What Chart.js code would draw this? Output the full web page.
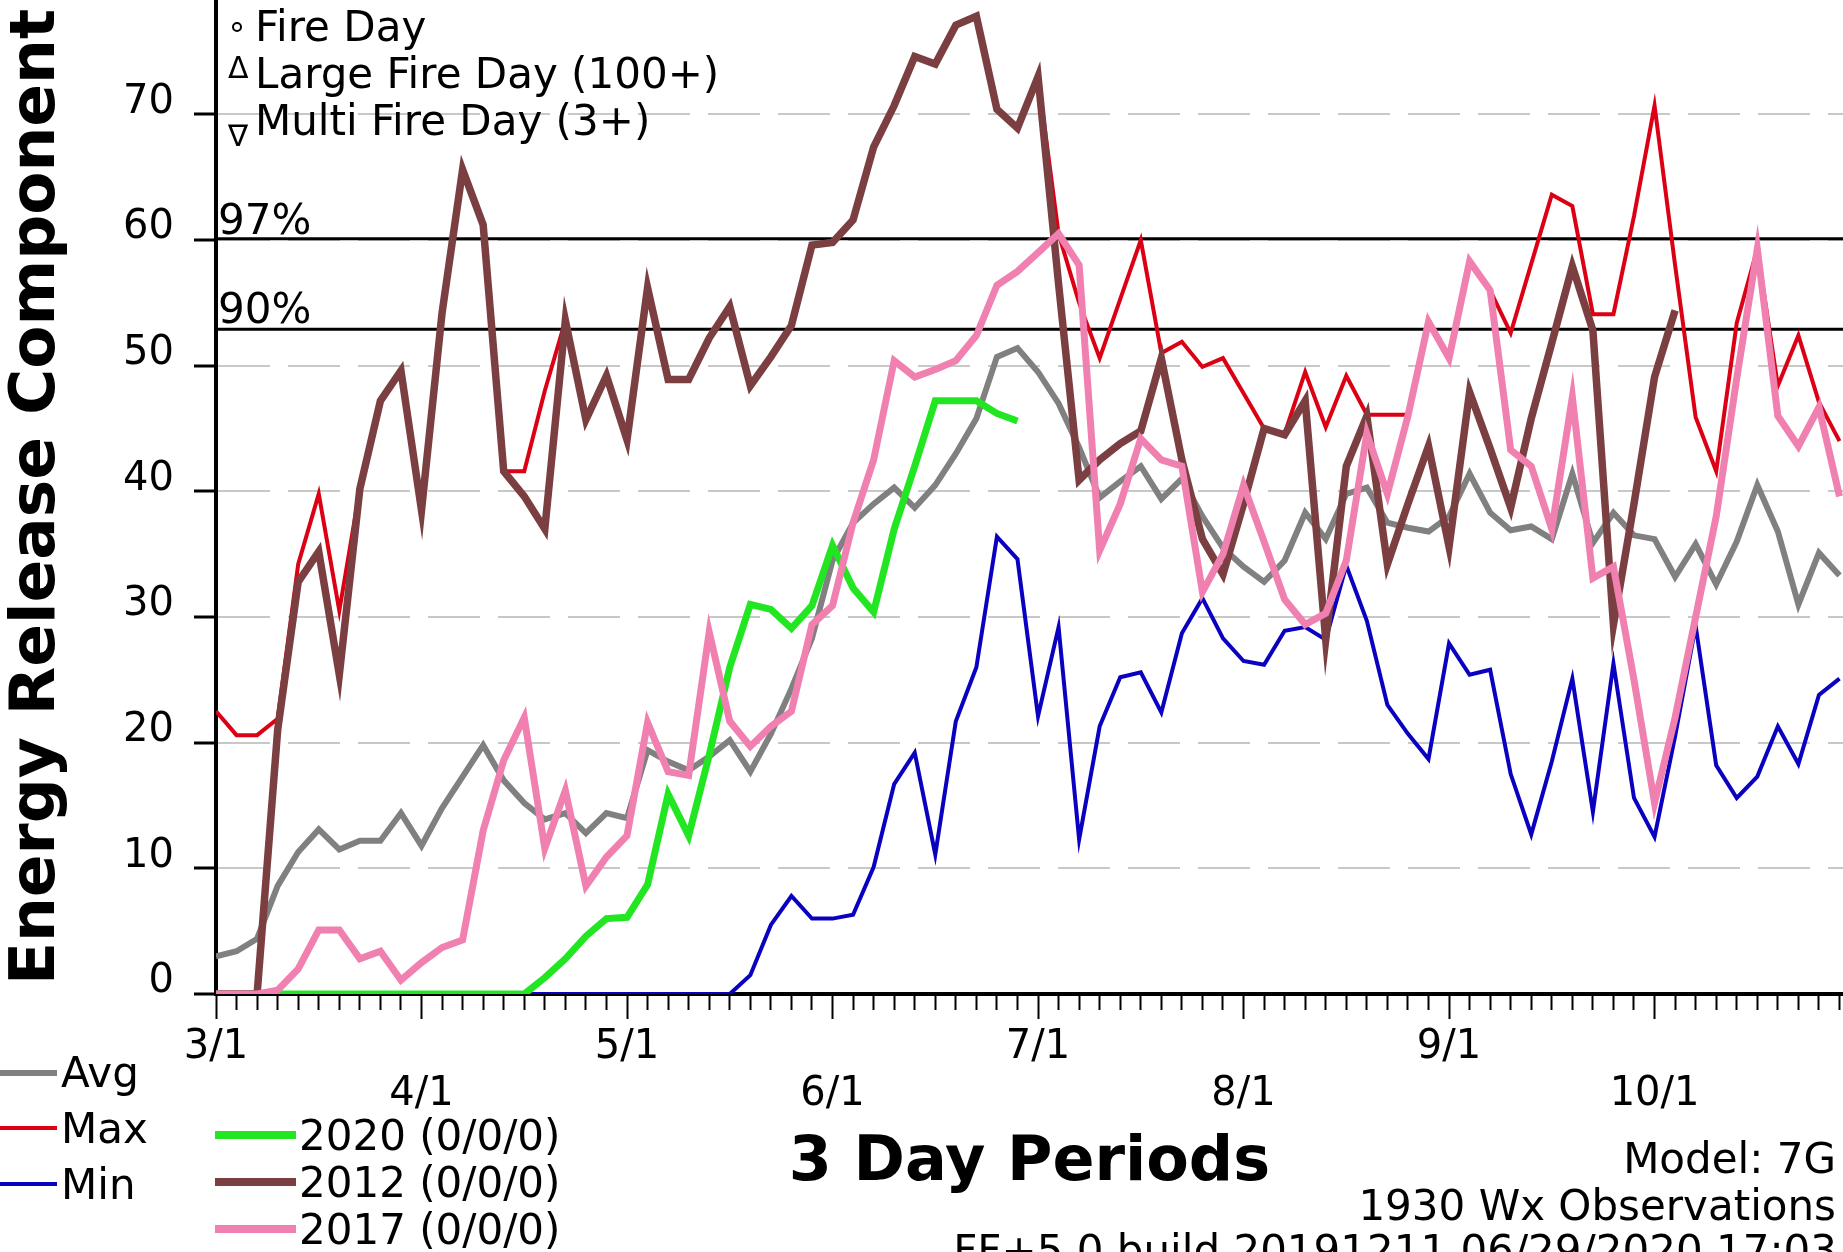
<!DOCTYPE html>
<html>
<head>
<meta charset="utf-8">
<title>Energy Release Component - 3 Day Periods</title>
<script src="https://cdn.jsdelivr.net/npm/chart.js@4.4.1/dist/chart.umd.min.js"></script>
<style>
  html, body { margin: 0; padding: 0; background: #fff; }
  #wrap { position: relative; width: 1843px; height: 1252px; overflow: hidden;
          font-family: 'DejaVu Sans', sans-serif; color: #000; background: #fff; }
  #wrap canvas { position: absolute; left: 0; top: 0; }
  .note { position: absolute; white-space: nowrap; line-height: 1; }
  .swatch { position: absolute; }
  .dot { position: absolute; width: 10px; height: 10px; box-sizing: border-box;
         border: 2px solid #000; border-radius: 50%; }
</style>
</head>
<body>
<div id="wrap"><canvas id="ercChart" width="1843" height="1252"></canvas></div>
<script>
'use strict';

// x axis: 3 day periods counted from 3/1, ten periods per month
const PERIODS = Array.from({ length: 80 }, (_, i) => i);
const MONTH_PERIODS = [0, 10, 20, 30, 40, 50, 60, 70];
const MONTH_LABELS = ['3/1', '4/1', '5/1', '6/1', '7/1', '8/1', '9/1', '10/1'];
const Y_TICKS = [0, 10, 20, 30, 40, 50, 60, 70];

const AVG = [
  3.0, 3.4, 4.4, 8.6, 11.3, 13.1, 11.5, 12.2, 12.2, 14.4,
  11.8, 14.8, 17.3, 19.8, 17.0, 15.2, 13.9, 14.4, 12.8, 14.4,
  14.0, 19.4, 18.5, 17.8, 18.9, 20.2, 17.7, 20.7, 24.3, 28.3,
  34.5, 37.5, 39.0, 40.3, 38.7, 40.5, 43.0, 45.8, 50.7, 51.4,
  49.5, 47.0, 43.5, 39.5, 40.8, 42.0, 39.4, 41.0, 38.0, 35.5,
  34.0, 32.8, 34.5, 38.3, 36.2, 39.8, 40.3, 37.5, 37.1, 36.8,
  38.0, 41.4, 38.3, 36.9, 37.2, 36.2, 41.4, 35.9, 38.3, 36.5,
  36.2, 33.2, 35.8, 32.6, 36.0, 40.5, 36.8, 31.0, 35.1, 33.3
];
const MAX = [
  22.5, 20.6, 20.6, 21.9, 34.2, 39.8, 30.5, 40.2, 47.2, 49.6,
  38.5, 54.2, 65.6, 61.2, 41.6, 41.6, 48.0, 53.6, 45.7, 49.2,
  44.1, 56.2, 48.9, 48.9, 52.2, 54.7, 48.4, 50.7, 53.2, 59.6,
  59.8, 61.6, 67.4, 70.7, 74.6, 74.0, 77.1, 77.8, 70.4, 68.9,
  73.0, 60.5, 55.0, 50.6, 55.3, 60.0, 51.0, 51.9, 49.9, 50.6,
  47.8, 45.0, 44.6, 49.5, 45.1, 49.2, 46.1, 46.1, 46.1, 53.5,
  50.6, 58.3, 56.0, 52.6, 58.1, 63.6, 62.7, 54.1, 54.1, 61.9,
  70.7, 58.0, 45.9, 41.6, 53.4, 59.3, 48.4, 52.4, 47.1, 44.0
];
const MIN = [
  0, 0, 0, 0, 0, 0, 0, 0, 0, 0,
  0, 0, 0, 0, 0, 0, 0, 0, 0, 0,
  0, 0, 0, 0, 0, 0, 1.5, 5.5, 7.8, 6.0,
  6.0, 6.3, 10.1, 16.7, 19.2, 11.1, 21.7, 26.0, 36.4, 34.6,
  22.1, 29.2, 12.3, 21.3, 25.2, 25.6, 22.4, 28.7, 31.5, 28.3,
  26.5, 26.2, 28.9, 29.2, 28.2, 34.1, 29.7, 23.0, 20.7, 18.7,
  27.9, 25.4, 25.8, 17.5, 12.7, 18.5, 25.1, 14.5, 26.3, 15.6,
  12.5, 20.5, 29.3, 18.2, 15.6, 17.3, 21.3, 18.3, 23.8, 25.1
];
const Y2020 = [
  0, 0, 0, 0, 0, 0, 0, 0, 0, 0,
  0, 0, 0, 0, 0, 0, 1.3, 2.8, 4.6, 6.0,
  6.1, 8.7, 15.9, 12.6, 19.0, 26.0, 31.0, 30.6, 29.1, 30.9,
  35.7, 32.3, 30.4, 37.0, 42.0, 47.2, 47.2, 47.2, 46.2, 45.6
];
const Y2012 = [
  0, 0, 0, 21.0, 32.8, 35.2, 25.4, 40.2, 47.2, 49.6,
  38.5, 54.2, 65.6, 61.2, 41.6, 39.6, 37.0, 53.6, 45.7, 49.2,
  44.1, 56.2, 48.9, 48.9, 52.2, 54.7, 48.4, 50.7, 53.2, 59.6,
  59.8, 61.6, 67.4, 70.7, 74.6, 74.0, 77.1, 77.8, 70.4, 68.9,
  73.0, 56.5, 40.9, 42.5, 43.8, 44.8, 50.6, 42.5, 36.2, 33.4,
  39.0, 45.0, 44.5, 47.2, 28.2, 42.0, 46.0, 34.2, 39.0, 43.6,
  35.6, 47.9, 43.4, 38.7, 45.8, 51.8, 57.9, 52.8, 29.4, 39.0,
  49.1, 54.4
];
const Y2017 = [
  0, 0, 0, 0.3, 2.0, 5.1, 5.1, 2.8, 3.4, 1.1,
  2.5, 3.7, 4.3, 13.0, 18.6, 22.0, 11.6, 16.2, 8.6, 10.9,
  12.6, 21.6, 17.7, 17.4, 28.8, 21.7, 19.7, 21.3, 22.5, 29.4,
  30.9, 37.5, 42.5, 50.4, 49.1, 49.7, 50.4, 52.4, 56.4, 57.5,
  59.0, 60.5, 58.0, 35.3, 39.0, 44.2, 42.5, 42.0, 32.0, 35.0,
  40.5, 36.0, 31.4, 29.4, 30.3, 34.5, 44.6, 39.8, 46.0, 53.5,
  50.6, 58.3, 56.0, 43.3, 42.0, 37.0, 47.5, 33.1, 34.0, 25.0,
  15.2, 22.0, 30.0, 38.0, 49.0, 59.3, 46.0, 43.6, 46.7, 39.6
];

// percentile lines
const PCT_97 = 60.1;
const PCT_90 = 52.9;

const X_MAX = 79.17;
const Y_MAX = 79.1;
const W = 1843;
const FONT = "'DejaVu Sans', sans-serif";

const SERIES = [
  { label: '2017', values: Y2017, color: '#f080b0', width: 7 },
  { label: '2012', values: Y2012, color: '#7b3f41', width: 7.5 },
  { label: '2020', values: Y2020, color: '#22e622', width: 7 },
  { label: 'Min',  values: MIN,   color: '#0a00c0', width: 4 },
  { label: 'Max',  values: MAX,   color: '#dc0014', width: 4 },
  { label: 'Avg',  values: AVG,   color: '#808080', width: 6 },
];

const NOTES = [
  { text: '97%', x: 218, base: 235 },
  { text: '90%', x: 218, base: 324 },
  { text: 'Fire Day', x: 255, base: 42 },
  { text: 'Large Fire Day (100+)', x: 255, base: 89 },
  { text: 'Multi Fire Day (3+)', x: 255, base: 136 },
  { text: '\u0394', x: 228, base: 78, size: 30 },
  { text: '\u2207', x: 228, base: 146, size: 30 },
  { text: 'Avg', x: 61, base: 1088 },
  { text: 'Max', x: 61, base: 1144 },
  { text: 'Min', x: 61, base: 1200 },
  { text: '2020 (0/0/0)', x: 299, base: 1151 },
  { text: '2012 (0/0/0)', x: 299, base: 1198 },
  { text: '2017 (0/0/0)', x: 299, base: 1245 },
  { text: 'Model: 7G', right: 1836, base: 1174 },
  { text: '1930 Wx Observations', right: 1836, base: 1221 },
  { text: 'FF+5.0 build 20191211 06/29/2020 17:03', right: 1837, base: 1266 },
];

const SWATCHES = [
  { color: '#808080', x: 0,   w: 57, y: 1073, h: 6 },
  { color: '#dc0014', x: 0,   w: 57, y: 1128, h: 4 },
  { color: '#0a00c0', x: 0,   w: 57, y: 1184, h: 4 },
  { color: '#22e622', x: 215, w: 81, y: 1135, h: 8 },
  { color: '#7b3f41', x: 215, w: 81, y: 1182, h: 8 },
  { color: '#f080b0', x: 215, w: 81, y: 1229, h: 8 },
];

function toPoints(values) {
  return values.map((v, i) => ({ x: PERIODS[i], y: v }));
}

function flatLine(y) {
  return [{ x: 0, y }, { x: X_MAX, y }];
}

function buildDatasets() {
  const sets = SERIES.map((s, i) => ({
    label: s.label,
    data: toPoints(s.values),
    borderColor: s.color,
    backgroundColor: s.color,
    borderWidth: s.width,
    pointRadius: 0,
    tension: 0,
    fill: false,
    order: i,
  }));
  [PCT_97, PCT_90].forEach((p, k) => sets.push({
    label: k === 0 ? '97%' : '90%',
    data: flatLine(p),
    borderColor: '#000',
    borderWidth: 3,
    pointRadius: 0,
    fill: false,
    order: 10,
  }));
  return sets;
}

function renderOverlay() {
  const wrap = document.getElementById('wrap');
  NOTES.forEach(n => {
    const el = document.createElement('div');
    const size = n.size || 42;
    el.className = 'note';
    el.textContent = n.text;
    el.style.fontSize = size + 'px';
    el.style.top = (n.base - 0.846 * size) + 'px';
    if (n.right != null) el.style.right = (W - n.right) + 'px';
    else el.style.left = n.x + 'px';
    wrap.appendChild(el);
  });
  SWATCHES.forEach(s => {
    const el = document.createElement('div');
    el.className = 'swatch';
    el.style.left = s.x + 'px';
    el.style.width = s.w + 'px';
    el.style.top = (s.y - s.h / 2) + 'px';
    el.style.height = s.h + 'px';
    el.style.background = s.color;
    wrap.appendChild(el);
  });
  const dot = document.createElement('div');
  dot.className = 'dot';
  dot.style.left = '232px';
  dot.style.top = '22px';
  wrap.appendChild(dot);
}

function renderChart() {
  Chart.defaults.font.family = FONT;
  Chart.defaults.color = '#000';

  new Chart(document.getElementById('ercChart'), {
    type: 'line',
    data: { datasets: buildDatasets() },
    options: {
      responsive: false,
      animation: false,
      events: [],
      layout: { padding: 0 },
      plugins: { legend: { display: false }, tooltip: { enabled: false } },
      scales: {
        x: {
          type: 'linear',
          min: 0,
          max: X_MAX,
          afterBuildTicks: s => { s.ticks = PERIODS.map(v => ({ value: v })); },
          afterFit: s => { s.height = 258; s.paddingLeft = 0; s.paddingRight = 0; },
          ticks: {
            autoSkip: false,
            maxRotation: 0,
            minRotation: 0,
            padding: 5,
            font: { size: 40, lineHeight: 1.175 },
            color: '#000',
            callback: v => {
              const k = MONTH_PERIODS.indexOf(v);
              if (k < 0) return '';
              return k % 2 === 0 ? MONTH_LABELS[k] : ['', MONTH_LABELS[k]];
            },
          },
          grid: {
            drawOnChartArea: false,
            tickLength: 25,
            tickWidth: 2,
            tickColor: '#000',
            tickBorderDash: ctx => (ctx.tick && MONTH_PERIODS.includes(ctx.tick.value)) ? [] : [14, 100],
          },
          border: { display: true, color: '#000', width: 4 },
          title: {
            display: true,
            text: '3 Day Periods',
            color: '#000',
            font: { size: 62, weight: 'bold' },
            padding: { top: 0, bottom: 51 },
          },
        },
        y: {
          type: 'linear',
          min: 0,
          max: Y_MAX,
          afterBuildTicks: s => { s.ticks = Y_TICKS.map(v => ({ value: v })); },
          afterFit: s => { s.width = 216; s.paddingTop = 0; s.paddingBottom = 0; },
          ticks: {
            padding: 20,
            labelOffset: -12,
            font: { size: 40 },
            color: '#000',
            callback: v => String(v),
          },
          grid: {
            color: ctx => (ctx.tick && ctx.tick.value === 0) ? 'rgba(0,0,0,0)' : '#c8c8c8',
            lineWidth: 2,
            tickLength: 22,
            tickWidth: 3,
            tickColor: '#000',
          },
          border: { display: true, color: '#000', width: 4, dash: [52, 18] },
          title: {
            display: true,
            text: 'Energy Release Component',
            color: '#000',
            font: { size: 63, weight: 'bold' },
            padding: { top: 0, bottom: 0 },
          },
        },
      },
    },
  });
}

renderChart();
renderOverlay();
</script>
</body>
</html>
